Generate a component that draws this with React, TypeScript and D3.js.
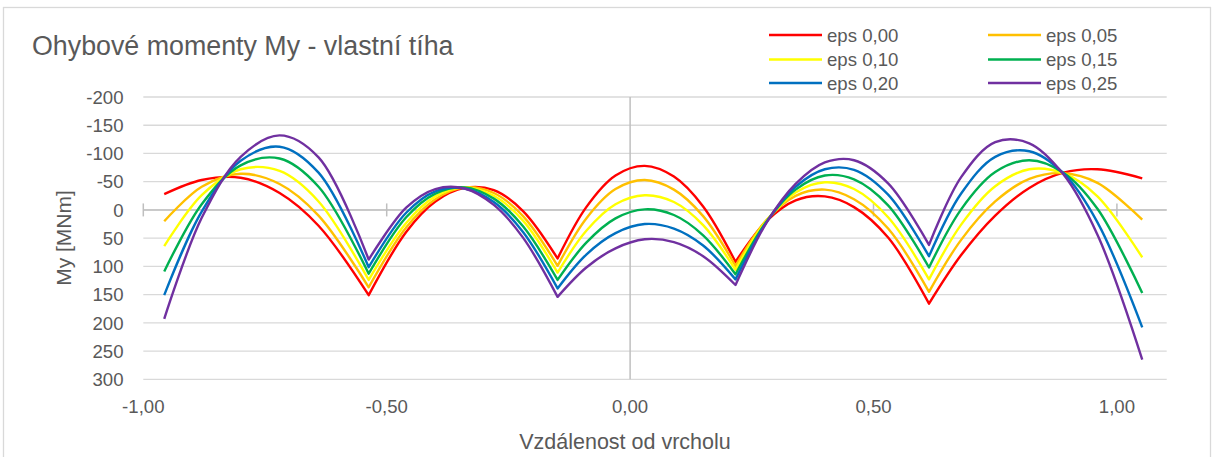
import React from "react";
import * as d3 from "d3";

// ---- data ----
const X_POS = [-0.957, -0.88, -0.8, -0.72, -0.64, -0.537, -0.46, -0.4, -0.34, -0.28, -0.22, -0.149, -0.09, -0.03, 0.03, 0.09, 0.15, 0.2165, 0.28, 0.34, 0.4, 0.46, 0.53, 0.614, 0.68, 0.75, 0.82, 0.89, 0.96, 1.052];
// indices of supports (kinks) splitting the curve into spans
const SPAN_BREAKS = [0, 5, 11, 17, 23, 29];

const EPS_000 = [-28, -53, -57, -30, 28, 151, 39, -15, -39, -35, 2, 86, -5, -61, -78, -59, -6, 92, 20, -17, -24, -5, 49, 166, 80, 10, -39, -66, -72, -56];
const EPS_005 = [20, -41, -64, -46, 10, 137, 31, -19, -40, -30, 11, 99, 15, -37, -53, -36, 11, 99, 18, -25, -36, -19, 33, 145, 53, -15, -55, -65, -48, 17];
const EPS_010 = [64, -26, -72, -69, -15, 124, 23, -24, -40, -25, 19, 111, 37, -10, -26, -14, 27, 106, 19, -31, -49, -37, 13, 123, 26, -42, -72, -65, -24, 84];
const EPS_015 = [109, -10, -79, -91, -41, 113, 13, -29, -40, -20, 29, 124, 58, 15, -1, 9, 45, 114, 21, -36, -61, -54, -8, 102, -1, -67, -88, -66, -2, 147];
const EPS_020 = [151, 3, -87, -112, -66, 101.5, 5, -33, -38, -14, 39, 139, 79, 41, 25, 33, 63, 123, 22, -41, -72, -71, -27, 82, -29, -94, -104, -65, 22, 208];
const EPS_025 = [193, 14, -94, -132, -93, 88, -4, -37, -38, -9, 49, 154, 102, 68, 52, 57, 82, 133, 23, -46, -84, -88, -47, 62, -58, -120, -118, -63, 44, 265];

const SERIES_NAMES = ["eps 0,00", "eps 0,05", "eps 0,10", "eps 0,15", "eps 0,20", "eps 0,25"];
const SERIES_VALUES = [EPS_000, EPS_005, EPS_010, EPS_015, EPS_020, EPS_025];

const Y_TICKS = [-200, -150, -100, -50, 0, 50, 100, 150, 200, 250, 300];
const X_TICKS = [-1, -0.5, 0, 0.5, 1];
const X_TICK_LABELS = ["-1,00", "-0,50", "0,00", "0,50", "1,00"];

const TITLE = "Ohybové momenty My - vlastní tíha";
const X_TITLE = "Vzdálenost od vrcholu";
const Y_TITLE = "My [MNm]";

// ---- styles ----
const COLORS = ["#FF0000", "#FFC000", "#FFFF00", "#00B050", "#0070C0", "#7030A0"];
const FONT = "'Liberation Sans', Arial, sans-serif";
const TEXT = "#595959";

export default function App() {
  const W = 1214;
  const H = 457;
  const x = d3.scaleLinear().domain([-1, 1.1]).range([143.3, 1165.6]);
  const y = d3.scaleLinear().domain([-200, 300]).range([97, 379.3]);
  const [x0, x1] = [143.3, 1166.7];

  const line = d3
    .line<number>()
    .x((i) => x(X_POS[i]))
    .y((i, _k, _arr) => 0)
    .curve(d3.curveCatmullRom.alpha(0.5));

  const seriesPath = (vals: number[]) => {
    let d = "";
    for (let s = 0; s < SPAN_BREAKS.length - 1; s++) {
      const idx = d3.range(SPAN_BREAKS[s], SPAN_BREAKS[s + 1] + 1);
      const seg = d3
        .line<number>()
        .x((i) => x(X_POS[i]))
        .y((i) => y(vals[i]))
        .curve(d3.curveCatmullRom.alpha(0.5))(idx) as string;
      d += s === 0 ? seg : seg.replace(/^M/, "L");
    }
    return d;
  };
  void line;

  const legendCols = [769, 988];
  const legendRows = [35, 59.5, 83];

  return (
    <svg
      width={W}
      height={H}
      style={{ position: "absolute", left: 0, top: 0, background: "#fff" }}
      fontFamily={FONT}
    >
      <rect x={0} y={0} width={W} height={H} fill="#fff" />
      <rect x={3.5} y={7.5} width={1207} height={470} fill="#fff" stroke="#d9d9d9" strokeWidth={1.3} />

      <text x={32} y={55} fontSize={26.8} fill={TEXT}>
        {TITLE}
      </text>

      {/* gridlines */}
      {Y_TICKS.map((t) => (
        <line key={"g" + t} x1={x0} x2={x1} y1={y(t)} y2={y(t)} stroke="#d9d9d9" strokeWidth={1.3} />
      ))}

      {/* vertical axis line at x = 0 */}
      <line x1={x(0)} x2={x(0)} y1={y(-200)} y2={y(300)} stroke="#bfbfbf" strokeWidth={1.5} />
      {/* horizontal axis line at y = 0 */}
      <line x1={x0} x2={x1} y1={y(0)} y2={y(0)} stroke="#bfbfbf" strokeWidth={1.5} />
      {X_TICKS.map((t) => (
        <line key={"t" + t} x1={x(t)} x2={x(t)} y1={y(0) - 6.5} y2={y(0) + 6.5} stroke="#bfbfbf" strokeWidth={1.5} />
      ))}

      {/* y tick labels */}
      {Y_TICKS.map((t) => (
        <text key={"yl" + t} x={123.5} y={y(t) + 6.7} fontSize={18.6} fill={TEXT} textAnchor="end">
          {String(t)}
        </text>
      ))}
      {/* x tick labels */}
      {X_TICKS.map((t, i) => (
        <text key={"xl" + t} x={x(t)} y={413.4} fontSize={18.6} fill={TEXT} textAnchor="middle">
          {X_TICK_LABELS[i]}
        </text>
      ))}

      {/* axis titles */}
      <text x={625} y={449} fontSize={21.5} fill={TEXT} textAnchor="middle">
        {X_TITLE}
      </text>
      <text
        transform={`translate(70.5, 238) rotate(-90)`}
        fontSize={21}
        fill={TEXT}
        textAnchor="middle"
      >
        {Y_TITLE}
      </text>

      {/* series */}
      {SERIES_VALUES.map((vals, k) => (
        <path
          key={"s" + k}
          d={seriesPath(vals)}
          fill="none"
          stroke={COLORS[k]}
          strokeWidth={2.4}
          strokeLinejoin="round"
          strokeLinecap="butt"
        />
      ))}

      {/* legend */}
      {SERIES_NAMES.map((name, k) => {
        const cx = legendCols[k % 2];
        const cy = legendRows[Math.floor(k / 2)];
        return (
          <g key={"lg" + k}>
            <line x1={cx} x2={cx + 53} y1={cy} y2={cy} stroke={COLORS[k]} strokeWidth={2.4} />
            <text x={cx + 58} y={cy + 6.7} fontSize={18.6} fill={TEXT}>
              {name}
            </text>
          </g>
        );
      })}
    </svg>
  );
}
